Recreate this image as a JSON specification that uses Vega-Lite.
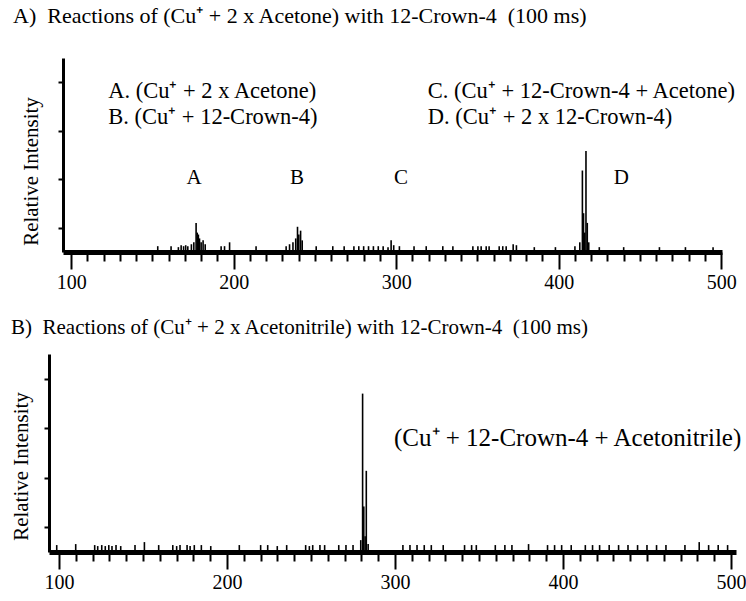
{
  "$schema": "https://vega.github.io/schema/vega-lite/v6.json",
  "background": "white",
  "padding": {"left": 10, "top": 5, "right": 5, "bottom": 5},
  "bounds": "flush",
  "center": true,
  "spacing": 102,
  "config": {
    "font": "Liberation Serif",
    "view": {"stroke": null},
    "axis": {"domainColor": "black", "tickColor": "black", "labelColor": "black", "titleColor": "black", "grid": false, "labelFont": "Liberation Serif", "titleFont": "Liberation Serif", "titleFontWeight": "normal"},
    "title": {"font": "Liberation Serif", "fontWeight": "normal", "color": "black"}
  },
  "datasets": {
    "specA": [
      {"mz":153.3,"i":0.03},{"mz":161.5,"i":0.03},{"mz":166,"i":0.025},{"mz":167.7,"i":0.035},{"mz":169.2,"i":0.03},{"mz":170.5,"i":0.035},{"mz":171.8,"i":0.03},{"mz":174,"i":0.04},{"mz":175.5,"i":0.05},{"mz":176.9,"i":0.15},{"mz":177.6,"i":0.1},{"mz":178.3,"i":0.09},{"mz":179,"i":0.07},{"mz":180,"i":0.05},{"mz":181.2,"i":0.06},{"mz":182.5,"i":0.04},{"mz":192.3,"i":0.03},{"mz":194.4,"i":0.03},{"mz":197.5,"i":0.05},{"mz":213.8,"i":0.03},{"mz":232.3,"i":0.03},{"mz":234.4,"i":0.04},{"mz":236.5,"i":0.05},{"mz":238.2,"i":0.07},{"mz":239.3,"i":0.13},{"mz":240.1,"i":0.09},{"mz":241.2,"i":0.11},{"mz":242.2,"i":0.06},{"mz":250.8,"i":0.03},{"mz":261,"i":0.03},{"mz":268,"i":0.03},{"mz":274,"i":0.03},{"mz":277,"i":0.03},{"mz":280,"i":0.03},{"mz":283,"i":0.03},{"mz":286,"i":0.03},{"mz":289,"i":0.03},{"mz":292,"i":0.03},{"mz":295,"i":0.025},{"mz":296.9,"i":0.06},{"mz":298.5,"i":0.035},{"mz":302,"i":0.03},{"mz":311,"i":0.03},{"mz":318.5,"i":0.03},{"mz":328.7,"i":0.03},{"mz":334.9,"i":0.03},{"mz":347.2,"i":0.03},{"mz":350.3,"i":0.03},{"mz":352.3,"i":0.03},{"mz":355.4,"i":0.03},{"mz":357.2,"i":0.03},{"mz":363.4,"i":0.03},{"mz":365.6,"i":0.03},{"mz":367.7,"i":0.03},{"mz":372,"i":0.04},{"mz":374,"i":0.035},{"mz":385,"i":0.025},{"mz":398,"i":0.025},{"mz":410,"i":0.03},{"mz":413,"i":0.05},{"mz":414.6,"i":0.42},{"mz":415.3,"i":0.2},{"mz":416,"i":0.1},{"mz":416.8,"i":0.52},{"mz":417.6,"i":0.15},{"mz":418.5,"i":0.05},{"mz":425,"i":0.025},{"mz":440,"i":0.025},{"mz":462,"i":0.025},{"mz":478,"i":0.025},{"mz":495,"i":0.025}
    ],
    "labelsA": [
      {"mz":122.8,"i":0.83,"text":"A. (Cu⁺ + 2 x Acetone)","kind":"legend"},
      {"mz":122.8,"i":0.696,"text":"B. (Cu⁺ + 12-Crown-4)","kind":"legend"},
      {"mz":319.5,"i":0.83,"text":"C. (Cu⁺ + 12-Crown-4 + Acetone)","kind":"legend"},
      {"mz":319.5,"i":0.696,"text":"D. (Cu⁺ + 2 x 12-Crown-4)","kind":"legend"},
      {"mz":175.7,"i":0.381,"text":"A","kind":"peak"},
      {"mz":239,"i":0.381,"text":"B","kind":"peak"},
      {"mz":303,"i":0.381,"text":"C","kind":"peak"},
      {"mz":438.5,"i":0.381,"text":"D","kind":"peak"}
    ],
    "specB": [
      {"mz":98.6,"i":0.035},{"mz":109.9,"i":0.04},{"mz":121.2,"i":0.035},{"mz":123,"i":0.03},{"mz":125.4,"i":0.035},{"mz":127.5,"i":0.03},{"mz":129.6,"i":0.035},{"mz":131.5,"i":0.03},{"mz":133.9,"i":0.035},{"mz":136.7,"i":0.03},{"mz":145.2,"i":0.035},{"mz":150.8,"i":0.05},{"mz":159.3,"i":0.035},{"mz":167.7,"i":0.035},{"mz":170,"i":0.03},{"mz":172,"i":0.035},{"mz":176.2,"i":0.035},{"mz":178,"i":0.03},{"mz":180.5,"i":0.035},{"mz":184.7,"i":0.035},{"mz":190.3,"i":0.03},{"mz":207.3,"i":0.035},{"mz":220,"i":0.035},{"mz":224.2,"i":0.035},{"mz":229.9,"i":0.03},{"mz":235.5,"i":0.035},{"mz":246.8,"i":0.035},{"mz":249,"i":0.03},{"mz":251,"i":0.035},{"mz":255.3,"i":0.035},{"mz":258.1,"i":0.035},{"mz":266.5,"i":0.035},{"mz":270.8,"i":0.035},{"mz":275,"i":0.035},{"mz":279.6,"i":0.06},{"mz":280.7,"i":0.8},{"mz":281.4,"i":0.23},{"mz":282.2,"i":0.08},{"mz":282.9,"i":0.41},{"mz":284,"i":0.04},{"mz":304.7,"i":0.035},{"mz":308.9,"i":0.035},{"mz":313.1,"i":0.035},{"mz":317.4,"i":0.035},{"mz":321.6,"i":0.035},{"mz":328.7,"i":0.035},{"mz":341.4,"i":0.035},{"mz":345.6,"i":0.035},{"mz":348.4,"i":0.035},{"mz":359.7,"i":0.035},{"mz":365.4,"i":0.035},{"mz":369.6,"i":0.035},{"mz":379.5,"i":0.04},{"mz":390.8,"i":0.035},{"mz":395,"i":0.035},{"mz":399.2,"i":0.035},{"mz":404.9,"i":0.035},{"mz":413.3,"i":0.035},{"mz":417.6,"i":0.035},{"mz":421.8,"i":0.035},{"mz":427.5,"i":0.035},{"mz":433.1,"i":0.035},{"mz":438.7,"i":0.035},{"mz":444.4,"i":0.035},{"mz":450,"i":0.035},{"mz":455.7,"i":0.035},{"mz":461.3,"i":0.035},{"mz":472.6,"i":0.035},{"mz":481.1,"i":0.05},{"mz":486.7,"i":0.035},{"mz":492.4,"i":0.035},{"mz":498,"i":0.035}
    ],
    "labelsB": [
      {"mz":299.4,"i":0.576,"text":"(Cu⁺ + 12-Crown-4 + Acetonitrile)","kind":"legend"}
    ]
  },
  "vconcat": [
    {
      "width": 659,
      "height": 194,
      "title": {"text": "A)\u00a0 Reactions of (Cu⁺ + 2 x Acetone) with 12-Crown-4\u00a0 (100 ms)", "anchor": "start", "frame": "group", "dx": -50, "offset": 13, "baseline": "alphabetic", "fontSize": 22},
      "resolve": {"axis": {"x": "independent"}},
      "layer": [
        {
          "data": {"name": "specA"},
          "mark": {"type": "rule", "strokeWidth": 1.6, "color": "black"},
          "encoding": {
            "x": {"field": "mz", "type": "quantitative", "scale": {"domain": [95, 500.5], "nice": false, "zero": false},
                  "axis": {"orient": "bottom", "values": [100, 200, 300, 400, 500], "tickSize": 17, "tickWidth": 2, "labelFontSize": 20, "labelPadding": 3, "domainWidth": 5, "title": null, "labelFlush": false}},
            "y": {"field": "i", "type": "quantitative", "scale": {"domain": [0, 1], "nice": false},
                  "axis": {"orient": "left", "values": [0.125, 0.25, 0.375, 0.5, 0.625, 0.75, 0.875, 1], "tickSize": 5, "tickWidth": 2, "labels": false, "domain": true, "domainWidth": 3, "title": "Relative Intensity", "titleFontSize": 21, "titleX": -32, "titleY": 113, "titleAngle": -90, "titleAlign": "center", "titleBaseline": "middle"}},
            "y2": {"datum": 0}
          }
        },
        {
          "data": {"name": "labelsA"},
          "transform": [{"filter": "datum.kind === 'legend'"}],
          "mark": {"type": "text", "align": "left", "baseline": "middle", "fontSize": 22.5, "color": "black"},
          "encoding": {
            "x": {"field": "mz", "type": "quantitative",
                  "axis": {"orient": "bottom", "values": [110,120,130,140,150,160,170,180,190,210,220,230,240,250,260,270,280,290,310,320,330,340,350,360,370,380,390,410,420,430,440,450,460,470,480,490], "tickSize": 9, "tickWidth": 2, "labels": false, "domain": false, "title": null}},
            "y": {"field": "i", "type": "quantitative"},
            "text": {"field": "text"}
          }
        },
        {
          "data": {"name": "labelsA"},
          "transform": [{"filter": "datum.kind === 'peak'"}],
          "mark": {"type": "text", "align": "center", "baseline": "middle", "fontSize": 21, "color": "black"},
          "encoding": {
            "x": {"field": "mz", "type": "quantitative", "axis": null},
            "y": {"field": "i", "type": "quantitative"},
            "text": {"field": "text"}
          }
        }
      ]
    },
    {
      "width": 687,
      "height": 198,
      "title": {"text": "B)\u00a0 Reactions of (Cu⁺ + 2 x Acetonitrile) with 12-Crown-4\u00a0 (100 ms)", "anchor": "start", "frame": "group", "dx": -38, "offset": -1, "baseline": "alphabetic", "fontSize": 21},
      "resolve": {"axis": {"x": "independent"}},
      "layer": [
        {
          "data": {"name": "specB"},
          "mark": {"type": "rule", "strokeWidth": 1.6, "color": "black"},
          "encoding": {
            "x": {"field": "mz", "type": "quantitative", "scale": {"domain": [94, 503], "nice": false, "zero": false},
                  "axis": {"orient": "bottom", "values": [100, 200, 300, 400, 500], "tickSize": 17, "tickWidth": 2, "labelFontSize": 20, "labelPadding": 3, "domainWidth": 5, "title": null, "labelFlush": false}},
            "y": {"field": "i", "type": "quantitative", "scale": {"domain": [0, 1], "nice": false},
                  "axis": {"orient": "left", "values": [0.125, 0.25, 0.375, 0.5, 0.625, 0.75, 0.875, 1], "tickSize": 5, "tickWidth": 2, "labels": false, "domain": true, "domainWidth": 3, "title": "Relative Intensity", "titleFontSize": 21, "titleX": -28, "titleY": 112, "titleAngle": -90, "titleAlign": "center", "titleBaseline": "middle"}},
            "y2": {"datum": 0}
          }
        },
        {
          "data": {"name": "labelsB"},
          "mark": {"type": "text", "align": "left", "baseline": "middle", "fontSize": 25, "color": "black"},
          "encoding": {
            "x": {"field": "mz", "type": "quantitative",
                  "axis": {"orient": "bottom", "values": [110,120,130,140,150,160,170,180,190,210,220,230,240,250,260,270,280,290,310,320,330,340,350,360,370,380,390,410,420,430,440,450,460,470,480,490], "tickSize": 9, "tickWidth": 2, "labels": false, "domain": false, "title": null}},
            "y": {"field": "i", "type": "quantitative"},
            "text": {"field": "text"}
          }
        }
      ]
    }
  ]
}
